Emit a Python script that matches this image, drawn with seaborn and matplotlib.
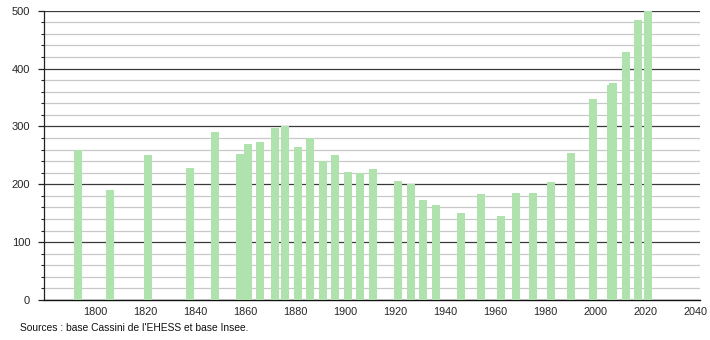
import matplotlib
matplotlib.use("Agg")
import matplotlib.pyplot as plt
import seaborn as sns
import pandas as pd
from matplotlib.ticker import MultipleLocator
from matplotlib import font_manager

years = [1793, 1806, 1821, 1838, 1848, 1858, 1861, 1866, 1872, 1876,
         1881, 1886, 1891, 1896, 1901, 1906, 1911, 1921, 1926, 1931,
         1936, 1946, 1954, 1962, 1968, 1975, 1982, 1990, 1999, 2006,
         2007, 2012, 2017, 2021]
population = [260, 190, 251, 228, 290, 253, 270, 273, 298, 301,
              264, 280, 240, 251, 222, 219, 226, 205, 200, 172,
              164, 151, 183, 146, 185, 185, 204, 254, 347, 372,
              375, 429, 484, 500]
x_ticks = [1800, 1820, 1840, 1860, 1880, 1900, 1920, 1940, 1960, 1980, 2000, 2020, 2040]
y_ticks = [0, 100, 200, 300, 400, 500]
source_text = "Sources : base Cassini de l'EHESS et base Insee."

sns.set_style("white")
names = {f.name for f in font_manager.fontManager.ttflist}
fam = ["Liberation Sans Narrow", "Liberation Sans", "DejaVu Sans"]
fam = [f for f in fam if f in names] or ["DejaVu Sans"]
plt.rcParams["font.family"] = fam

df = pd.DataFrame({"year": years, "pop": population})

fig = plt.figure(figsize=(7.1, 3.4), dpi=100)
ax = fig.add_axes([44 / 710, 40 / 340, (700 - 44) / 710, (300 - 10.7) / 340])

sns.barplot(data=df, x="year", y="pop", native_scale=True, orient="x",
            width=3.2, color="#b0e2ae", saturation=1, errorbar=None,
            linewidth=0, ax=ax, zorder=3)

ax.set_xlim(1779.6, 2041.6)
ax.set_ylim(0, 500)
ax.set_xticks(x_ticks)
ax.set_xticklabels([str(t) for t in x_ticks])
ax.set_yticks(y_ticks)
ax.set_yticklabels([str(t) for t in y_ticks])
ax.yaxis.set_minor_locator(MultipleLocator(20))

ax.set_axisbelow(True)
ax.grid(False)
ax.yaxis.grid(True, which="major", color="#3a3a3a", linewidth=0.9, zorder=0)
ax.yaxis.grid(True, which="minor", color="#c8c8c8", linewidth=0.9, zorder=0)

for s in ["top", "right"]:
    ax.spines[s].set_visible(False)
ax.spines["left"].set_color("#222222")
ax.spines["left"].set_linewidth(0.9)
ax.spines["bottom"].set_color("#111111")
ax.spines["bottom"].set_linewidth(1.0)

ax.tick_params(axis="y", which="major", length=4, width=0.9, color="#222222",
               labelsize=8, pad=6, left=True)
ax.tick_params(axis="y", which="minor", length=2.2, width=0.8, color="#222222", left=True)
ax.tick_params(axis="x", which="both", length=0, labelsize=7.8, pad=5)

ax.set_xlabel("")
ax.set_ylabel("")

fig.text(20 / 710, 1 - 328 / 340, source_text, fontsize=7.4, va="center", ha="left",
         color="#111111")

fig.savefig("out.png", dpi=100)
